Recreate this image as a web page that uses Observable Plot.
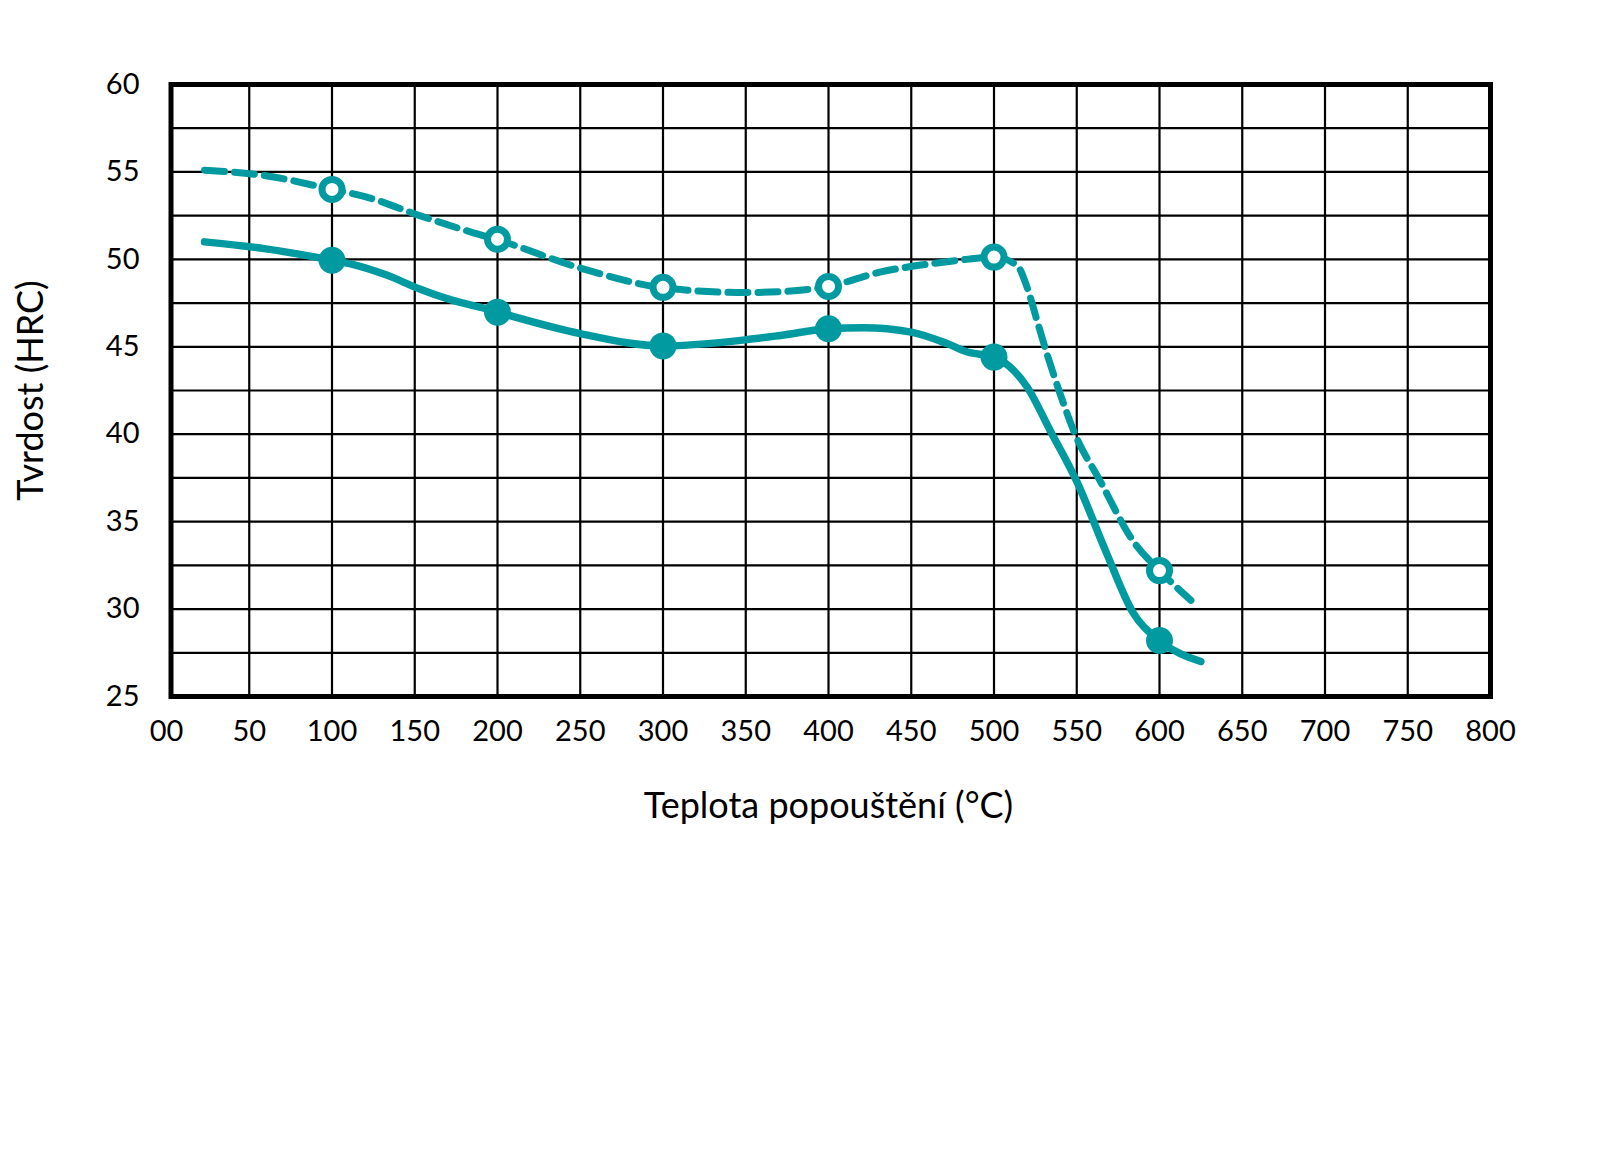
<!DOCTYPE html>
<html><head><meta charset="utf-8">
<script src="https://cdn.jsdelivr.net/npm/d3@7"></script>
<script src="https://cdn.jsdelivr.net/npm/@observablehq/plot@0.6"></script>
<style>body{margin:0;background:#fff} svg{display:block}</style>
</head><body><div id="chart"></div>
<script>
// ---- data ----
const xTicks = [0,50,100,150,200,250,300,350,400,450,500,550,600,650,700,750,800];
const yTicks = [25,30,35,40,45,50,55,60];
const yGrid = [27.5,30,32.5,35,37.5,40,42.5,45,47.5,50,52.5,55,57.5];
const xGrid = [50,100,150,200,250,300,350,400,450,500,550,600,650,700,750];

// solid curve
const solidX = [23, 60, 100, 113, 133, 153, 173, 190, 200, 250, 300, 350, 371, 400, 421, 450, 472, 484, 500, 520, 534, 550, 568, 584, 600, 625];
const solidY = [51.0, 50.6, 49.95, 49.7, 49.1, 48.3, 47.65, 47.25, 46.98, 45.75, 45.05, 45.4, 45.65, 46.03, 46.09, 45.84, 45.17, 44.7, 44.41, 42.7, 40.2, 37.3, 33.2, 29.8, 28.2, 27.0];
// dashed curve
const dashX = [23, 59, 100, 121, 153, 184, 200, 250, 300, 350, 381, 400, 431, 462, 478, 500, 514, 520, 526, 532, 540, 549, 564, 584, 600, 619];
const dashY = [55.1, 54.8, 54.0, 53.56, 52.5, 51.56, 51.12, 49.5, 48.38, 48.1, 48.22, 48.45, 49.27, 49.75, 49.94, 50.13, 49.65, 48.4, 46.5, 44.6, 42.3, 40.0, 37.35, 33.9, 32.2, 30.5];
// markers
const markX = [100, 200, 300, 400, 500, 600];
const solidMarkY = [49.95, 46.98, 45.05, 46.03, 44.41, 28.2];
const openMarkY = [54.0, 51.15, 48.4, 48.45, 50.13, 32.2];

const xLabel = "Teplota popouštění (°C)";
const yLabel = "Tvrdost (HRC)";

const teal = "#009aa0";
const solid = solidX.map((x, i) => ({x, y: solidY[i]}));
const dashed = dashX.map((x, i) => ({x, y: dashY[i]}));
const solidMarks = markX.map((x, i) => ({x, y: solidMarkY[i]}));
const openMarks = markX.map((x, i) => ({x, y: openMarkY[i]}));

const chart = Plot.plot({
  width: 1621,
  height: 1171,
  marginLeft: 166,
  marginRight: 131,
  marginTop: 84,
  marginBottom: 475,
  style: {fontFamily: "Lato, sans-serif", background: "white", color: "black"},
  x: {domain: [0, 800]},
  y: {domain: [25, 60]},
  marks: [
    Plot.ruleX(xGrid, {stroke: "black", strokeWidth: 2.2}),
    Plot.ruleY(yGrid, {stroke: "black", strokeWidth: 2.2, insetLeft: 5}),
    Plot.frame({stroke: "black", strokeWidth: 5, insetLeft: 4.5}),
    Plot.axisX({ticks: xTicks, tickSize: 0, tickPadding: 24, fontSize: 29, tickFormat: d => d === 0 ? "00" : String(d), label: null}),
    Plot.axisY({ticks: yTicks, tickSize: 0, tickPadding: 27, fontSize: 29, label: null}),
    Plot.line(dashed, {x: "x", y: "y", stroke: teal, strokeWidth: 7, strokeDasharray: "20,10", curve: "monotone-x"}),
    Plot.line(solid, {x: "x", y: "y", stroke: teal, strokeWidth: 7.5, curve: "monotone-x"}),
    Plot.dot(openMarks, {x: "x", y: "y", r: 10, fill: "white", stroke: teal, strokeWidth: 7}),
    Plot.dot(solidMarks, {x: "x", y: "y", r: 13.5, fill: teal, stroke: "none"}),
    Plot.text([xLabel], {frameAnchor: "bottom", lineAnchor: "bottom", dy: 121, fontSize: 36, fill: "black"}),
    Plot.text([yLabel], {frameAnchor: "left", textAnchor: "middle", rotate: -90, dx: -135, dy: 0, fontSize: 36, fill: "black"})
  ]
});
document.getElementById("chart").appendChild(chart);
</script>
</body></html>
